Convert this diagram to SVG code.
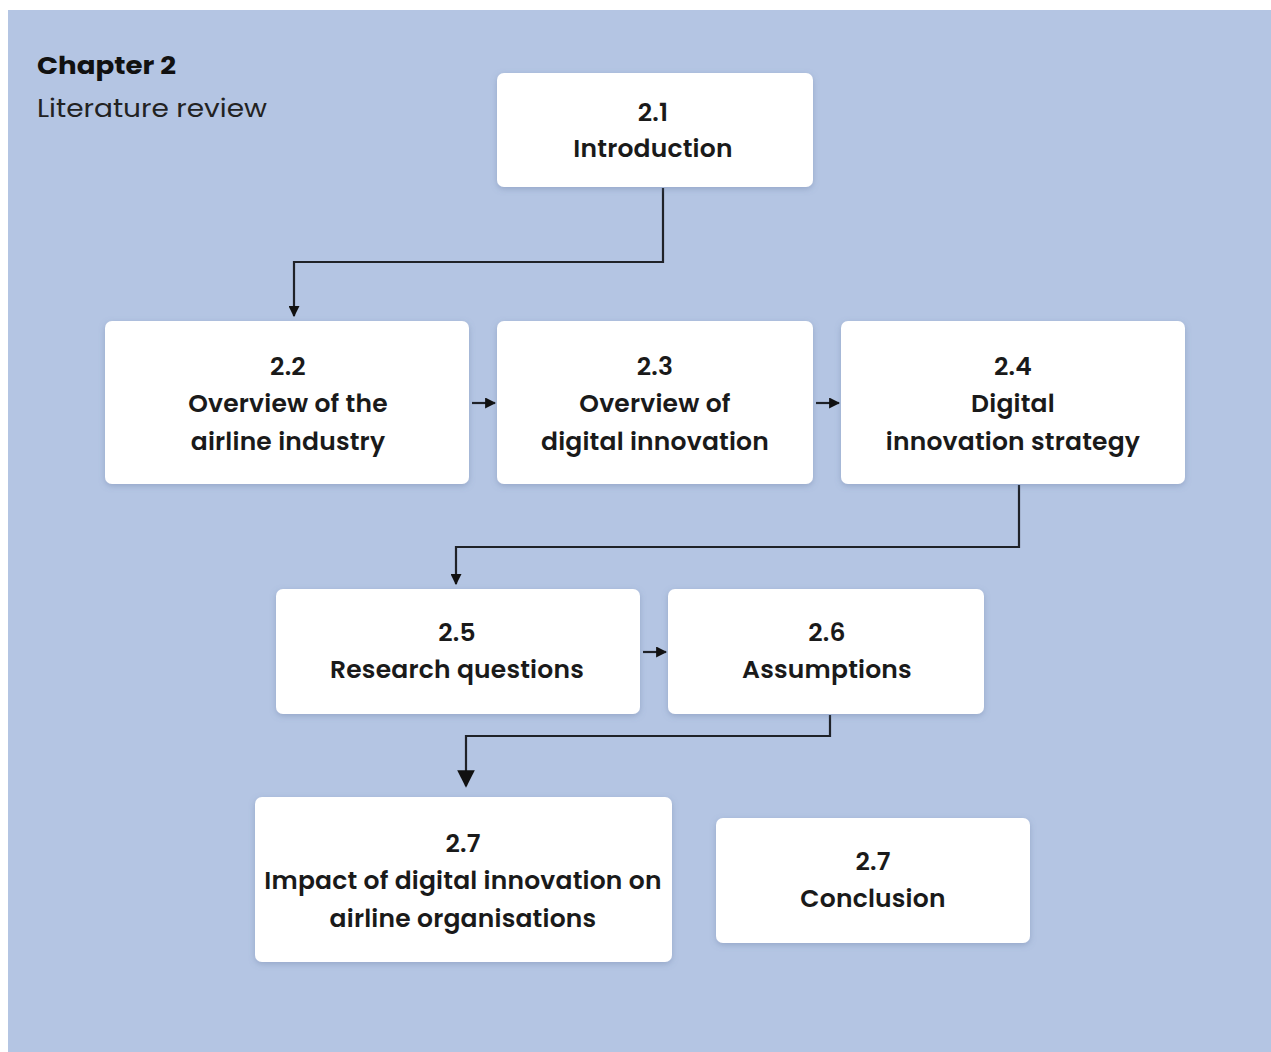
<svg xmlns="http://www.w3.org/2000/svg" width="1271" height="1052" viewBox="0 0 1271 1052">
<style>
.box{fill:#ffffff;filter:url(#sh)}
.t{font-family:Poppins,"Inter","Liberation Sans",sans-serif;font-weight:600;font-size:25px;letter-spacing:0.2px;fill:#1a1a1a;text-anchor:middle}
.ln{fill:none;stroke:#1f2228;stroke-width:2.2}
</style>
<defs>
<filter id="sh" x="-10%" y="-10%" width="120%" height="130%">
<feDropShadow dx="0" dy="2" stdDeviation="3" flood-color="#5a6e96" flood-opacity="0.35"/>
</filter>
<marker id="a" viewBox="0 0 10 10" refX="9" refY="5" markerWidth="5" markerHeight="5" orient="auto" markerUnits="strokeWidth">
<path d="M0,0 L10,5 L0,10 z" fill="#111"/>
</marker>
<marker id="b" viewBox="0 0 10 10" refX="9" refY="5" markerWidth="8" markerHeight="8" orient="auto" markerUnits="strokeWidth">
<path d="M0,0 L10,5 L0,10 z" fill="#111"/>
</marker>
</defs>
<rect x="8" y="10" width="1263" height="1042" fill="#b4c5e3"/>
<g id="title">
<text x="37" y="74" font-family="Poppins,Inter,'Liberation Sans',sans-serif" font-weight="700" font-size="25" fill="#111" textLength="139" lengthAdjust="spacingAndGlyphs">Chapter 2</text>
<text x="37" y="117" font-family="Poppins,Inter,'Liberation Sans',sans-serif" font-weight="400" font-size="25" fill="#222" textLength="230" lengthAdjust="spacingAndGlyphs">Literature review</text>
</g>
<g id="connectors">
<polyline class="ln" points="663,188 663,262 294,262 294,316" marker-end="url(#a)"/>
<line class="ln" x1="472" y1="403" x2="495" y2="403" marker-end="url(#a)"/>
<line class="ln" x1="816" y1="403" x2="839" y2="403" marker-end="url(#a)"/>
<polyline class="ln" points="1019,485 1019,547 456,547 456,584" marker-end="url(#a)"/>
<line class="ln" x1="643" y1="652" x2="666" y2="652" marker-end="url(#a)"/>
<polyline class="ln" points="830,715 830,736 466,736 466,786" marker-end="url(#b)"/>
</g>
<g id="n21">
<rect class="box" x="497" y="73" width="316" height="114" rx="7"/>
<text class="t" x="653" y="121">2.1</text>
<text class="t" x="653" y="157">Introduction</text>
</g>
<g id="n22">
<rect class="box" x="105" y="321" width="364" height="163" rx="7"/>
<text class="t" x="288" y="375">2.2</text>
<text class="t" x="288" y="412">Overview of the</text>
<text class="t" x="288" y="450">airline industry</text>
</g>
<g id="n23">
<rect class="box" x="497" y="321" width="316" height="163" rx="7"/>
<text class="t" x="655" y="375">2.3</text>
<text class="t" x="655" y="412">Overview of</text>
<text class="t" x="655" y="450">digital innovation</text>
</g>
<g id="n24">
<rect class="box" x="841" y="321" width="344" height="163" rx="7"/>
<text class="t" x="1013" y="375">2.4</text>
<text class="t" x="1013" y="412">Digital</text>
<text class="t" x="1013" y="450">innovation strategy</text>
</g>
<g id="n25">
<rect class="box" x="276" y="589" width="364" height="125" rx="7"/>
<text class="t" x="457" y="641">2.5</text>
<text class="t" x="457" y="678">Research questions</text>
</g>
<g id="n26">
<rect class="box" x="668" y="589" width="316" height="125" rx="7"/>
<text class="t" x="827" y="641">2.6</text>
<text class="t" x="827" y="678">Assumptions</text>
</g>
<g id="n27a">
<rect class="box" x="255" y="797" width="417" height="165" rx="7"/>
<text class="t" x="463" y="852">2.7</text>
<text class="t" x="463" y="889">Impact of digital innovation on</text>
<text class="t" x="463" y="927">airline organisations</text>
</g>
<g id="n27b">
<rect class="box" x="716" y="818" width="314" height="125" rx="7"/>
<text class="t" x="873" y="870">2.7</text>
<text class="t" x="873" y="907">Conclusion</text>
</g>
</svg>
